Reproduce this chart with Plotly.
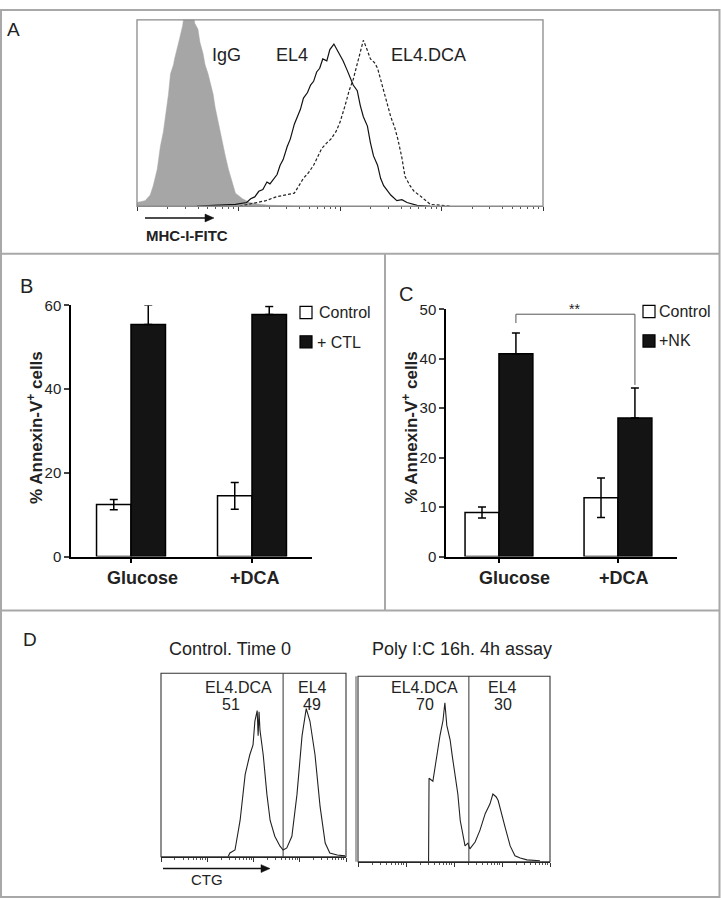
import math
import plotly.graph_objects as go

W, H = 721, 906

# ---------------- data ----------------
# Panel A: flow histograms (x in log decades, y in % of axis height)
a_igg_x = [0.00, 0.08, 0.13, 0.16, 0.20, 0.23, 0.26, 0.28, 0.31, 0.33, 0.36, 0.37, 0.40, 0.42, 0.45, 0.47,
           0.50, 0.52, 0.55, 0.57, 0.60, 0.62, 0.65, 0.67, 0.70, 0.72, 0.75, 0.77, 0.80, 0.82, 0.85,
           0.87, 0.90, 0.92, 0.95, 0.97, 1.04, 1.11, 1.21, 1.31, 1.61]
a_igg_y = [2, 3, 6, 11, 20, 32, 40, 48, 60, 71, 76, 79, 85, 90, 97, 105,
           102, 108, 104, 98, 95, 88, 82, 76, 71, 67, 60, 53, 45, 39, 32,
           27, 20, 16, 10, 7, 4, 2, 1, 0.5, 0]
a_el4_x = [0.59, 0.82, 0.97, 1.08, 1.12, 1.16, 1.20, 1.24, 1.28, 1.31, 1.35, 1.38, 1.41, 1.44, 1.48, 1.51,
           1.55, 1.58, 1.61, 1.64, 1.68, 1.71, 1.74, 1.77, 1.80, 1.83, 1.87, 1.90, 1.94, 1.98, 2.03,
           2.07, 2.10, 2.13, 2.17, 2.20, 2.23, 2.27, 2.30, 2.33, 2.37, 2.40, 2.43, 2.47, 2.50, 2.56,
           2.61, 2.66, 2.76, 2.89]
a_el4_y = [0, 0.5, 1, 2, 4, 5, 8, 9, 13, 12, 15, 17, 22, 25, 32, 36,
           44, 48, 52, 58, 61, 65, 67, 72, 74, 79, 78, 84, 87, 83, 78,
           73, 69, 65, 62, 54, 48, 43, 34, 27, 22, 15, 11, 8, 6, 3,
           3.5, 2, 0.5, 0]
a_dca_x = [1.01, 1.18, 1.27, 1.37, 1.46, 1.55, 1.64, 1.69, 1.74, 1.78, 1.82, 1.87, 1.91, 1.96, 2.00,
           2.05, 2.09, 2.13, 2.16, 2.20, 2.23, 2.26, 2.30, 2.34, 2.37, 2.40, 2.43, 2.47, 2.50,
           2.54, 2.57, 2.61, 2.64, 2.69, 2.73, 2.78, 2.82, 2.89, 2.99, 3.09]
a_dca_y = [0, 2, 3, 5, 6, 7, 15, 18, 22, 27, 31, 34, 36, 40, 45,
           54, 62, 68, 74, 82, 89, 85, 79, 77, 74, 68, 62, 55, 48,
           42, 36, 26, 16, 11, 8, 6, 4, 1, 0.5, 0]

# Panel B: % Annexin-V+ cells with CTL
groups = ["Glucose", "+DCA"]
b_control = [12.4, 14.5]
b_control_err = [1.2, 3.2]
b_ctl = [55.4, 57.8]
b_ctl_err = [4.7, 1.9]

# Panel C: % Annexin-V+ cells with NK
c_control = [8.9, 11.9]
c_control_err = [1.1, 4.0]
c_nk = [41.0, 28.0]
c_nk_err = [4.2, 6.1]

# Panel D: CTG histograms (x in log decades, y in % of box height)
d0_x = [1.45, 1.49, 1.60, 1.71, 1.82, 1.92, 1.99, 2.03, 2.08, 2.10, 2.12, 2.14, 2.21, 2.29, 2.36, 2.46,
        2.57, 2.64, 2.72, 2.83, 2.94, 3.05, 3.14, 3.22, 3.33, 3.44, 3.55, 3.65, 3.81, 3.98]
d0_y = [0, 2.1, 3.7, 19.8, 44.9, 55.6, 61, 74, 79.7, 66, 79, 69, 55.6, 34, 19.8, 11.2,
        5.9, 3.7, 4.8, 11.2, 34, 66, 80.7, 74, 55.6, 27.3, 7.5, 2.1, 1, 0.5]
d1_x = [1.47, 1.48, 1.56, 1.65, 1.71, 1.77, 1.81, 1.85, 1.92, 1.96, 2.02, 2.08, 2.13, 2.23, 2.29, 2.33,
        2.44, 2.54, 2.65, 2.75, 2.81, 2.88, 2.92, 2.96, 3.06, 3.17, 3.27, 3.38, 3.52, 3.79]
d1_y = [0, 45.0, 43.4, 59.3, 68.3, 76, 85.7, 73.5, 65.6, 57.7, 47.1, 36.5, 22.2, 8.5, 10, 6.9,
        10.6, 16.9, 25.9, 31.2, 36.5, 34.9, 33, 28.6, 19, 8.5, 3.2, 2, 1, 0.5]
d0_gate = 2.64
d1_gate = 2.31
d0_pct = ["51", "49"]
d1_pct = ["70", "30"]


# ---------------- helpers ----------------
def px(x):
    return x / W


def py(y):
    return 1 - y / H


FONT = "Liberation Sans, Arial, sans-serif"
fig = go.Figure()

# Panel A traces
fig.add_trace(go.Scatter(x=a_igg_x, y=a_igg_y, mode="lines", fill="tozeroy",
                         line=dict(width=0.5, color="#a6a6a6"), fillcolor="#a6a6a6",
                         xaxis="x", yaxis="y", showlegend=False))
fig.add_trace(go.Scatter(x=a_el4_x, y=a_el4_y, mode="lines",
                         line=dict(width=1.2, color="#111"), xaxis="x", yaxis="y", showlegend=False))
fig.add_trace(go.Scatter(x=a_dca_x, y=a_dca_y, mode="lines",
                         line=dict(width=1.2, color="#222", dash="3px,2px"), xaxis="x", yaxis="y",
                         showlegend=False))

BW = 0.285
ZERO = [0, 0]
# Panel B bars
fig.add_trace(go.Bar(x=[0, 1], y=b_control, width=BW, offset=-BW, xaxis="x2", yaxis="y2",
                     marker=dict(color="white", line=dict(color="black", width=1.5)),
                     error_y=dict(type="data", array=b_control_err, color="black", thickness=1.5, width=4),
                     showlegend=False))
fig.add_trace(go.Bar(x=[0, 1], y=b_ctl, width=BW, offset=0, xaxis="x2", yaxis="y2",
                     marker=dict(color="#141414", line=dict(color="black", width=1.5)),
                     error_y=dict(type="data", array=b_ctl_err, arrayminus=ZERO, symmetric=False,
                                  color="black", thickness=1.5, width=4),
                     showlegend=False))
# Panel C bars
fig.add_trace(go.Bar(x=[0, 1], y=c_control, width=BW, offset=-BW, xaxis="x3", yaxis="y3",
                     marker=dict(color="white", line=dict(color="black", width=1.5)),
                     error_y=dict(type="data", array=c_control_err, color="black", thickness=1.5, width=4),
                     showlegend=False))
fig.add_trace(go.Bar(x=[0, 1], y=c_nk, width=BW, offset=0, xaxis="x3", yaxis="y3",
                     marker=dict(color="#141414", line=dict(color="black", width=1.5)),
                     error_y=dict(type="data", array=c_nk_err, arrayminus=ZERO, symmetric=False,
                                  color="black", thickness=1.5, width=4),
                     showlegend=False))

# Panel D traces
fig.add_trace(go.Scatter(x=d0_x, y=d0_y, mode="lines", line=dict(width=1.1, color="#222"),
                         xaxis="x4", yaxis="y4", showlegend=False))
fig.add_trace(go.Scatter(x=d1_x, y=d1_y, mode="lines", line=dict(width=1.1, color="#222"),
                         xaxis="x5", yaxis="y5", showlegend=False))

log_major = [0, 1, 2, 3, 4]
log_minor = [d + math.log10(k) for d in range(4) for k in range(2, 10)]


def hist_x(domain):
    return dict(domain=domain, range=[0, 4], showgrid=False, zeroline=False, showline=True,
                linecolor="#222", linewidth=1, ticks="outside", ticklen=4, tickcolor="#333",
                tickvals=log_major, showticklabels=False,
                minor=dict(tickvals=log_minor, ticks="outside", ticklen=2, tickcolor="#555"))


def hist_y(domain, anchor):
    return dict(domain=domain, range=[0, 100], showgrid=False, zeroline=False,
                showline=False, showticklabels=False, ticks="", anchor=anchor)


def bar_x(domain, rng):
    return dict(domain=domain, range=rng, showgrid=False, zeroline=False, showline=True,
                linecolor="black", linewidth=1.5, ticks="outside", ticklen=5, tickwidth=1.5,
                tickcolor="black", tickvals=[0, 1], showticklabels=False)


def bar_y(domain, rng, dt, anchor):
    return dict(domain=domain, range=rng, showgrid=False, zeroline=False, showline=True,
                linecolor="black", linewidth=1.5, ticks="outside", ticklen=5, tickwidth=1.5,
                tickcolor="#444", dtick=dt, tickfont=dict(family=FONT, size=15, color="#222"),
                anchor=anchor)


layout = dict(
    width=W, height=H, margin=dict(l=0, r=0, t=0, b=0),
    paper_bgcolor="white", plot_bgcolor="rgba(0,0,0,0)", barmode="overlay",
    font=dict(family=FONT, color="#222"),
    xaxis=dict(hist_x([px(137), px(543)]), anchor="y"),
    yaxis=hist_y([py(201), py(11)], "x"),
    xaxis2=dict(bar_x([px(71), px(312)], [-0.496, 1.496]), anchor="y2"),
    yaxis2=bar_y([py(558), py(302)], [0, 60], 20, "x2"),
    xaxis3=dict(bar_x([px(446), px(677)], [-0.445, 1.496]), anchor="y3"),
    yaxis3=bar_y([py(558), py(306)], [0, 50], 10, "x3"),
    xaxis4=dict(hist_x([px(161), px(346)]), anchor="y4"),
    yaxis4=hist_y([py(864), py(677)], "x4"),
    xaxis5=dict(hist_x([px(358), px(550)]), anchor="y5"),
    yaxis5=hist_y([py(869), py(680)], "x5"),
)
layout["xaxis"]["linecolor"] = "#333"
fig.update_layout(**layout)

shapes = []
GRAY = "#a8a8a8"
# outer frame and panel dividers
shapes.append(dict(type="rect", xref="paper", yref="paper", x0=px(1), x1=px(719.5), y0=py(905), y1=py(1),
                   line=dict(color=GRAY, width=2)))
shapes.append(dict(type="line", xref="paper", yref="paper", x0=px(1), x1=px(719.5), y0=py(249.5), y1=py(249.5),
                   line=dict(color=GRAY, width=2)))
shapes.append(dict(type="line", xref="paper", yref="paper", x0=px(1), x1=px(719.5), y0=py(613), y1=py(613),
                   line=dict(color=GRAY, width=2)))
shapes.append(dict(type="line", xref="paper", yref="paper", x0=px(385), x1=px(385), y0=py(249.5), y1=py(613),
                   line=dict(color=GRAY, width=2)))
# Panel A box
shapes.append(dict(type="rect", xref="paper", yref="paper", x0=px(137), x1=px(543), y0=py(201), y1=py(11),
                   line=dict(color="#8a8a8a", width=1.3)))
# Panel D boxes
shapes.append(dict(type="rect", xref="x4 domain", yref="y4 domain", x0=0, x1=1, y0=0, y1=1,
                   line=dict(color="#333", width=1.1)))
shapes.append(dict(type="rect", xref="x5 domain", yref="y5 domain", x0=0, x1=1, y0=0, y1=1,
                   line=dict(color="#333", width=1.1)))
shapes.append(dict(type="line", xref="paper", yref="y5 domain", x0=px(356), x1=px(356), y0=0, y1=1,
                   line=dict(color="#555", width=1)))
# gates
shapes.append(dict(type="line", xref="x4", yref="y4 domain", x0=d0_gate, x1=d0_gate, y0=0, y1=1,
                   line=dict(color="#333", width=1)))
shapes.append(dict(type="line", xref="x5", yref="y5 domain", x0=d1_gate, x1=d1_gate, y0=0, y1=1,
                   line=dict(color="#333", width=1)))
# significance bracket in C (NK bar centres)
xl = BW / 2
xr = 1 + BW / 2
shapes.append(dict(type="path", xref="x3", yref="y3",
                   path=f"M {xl},47.2 L {xl},49.0 L {xr},49.0 L {xr},{c_nk[1] + c_nk_err[1] + 0.6}",
                   line=dict(color="#555", width=1)))
# legends
for (x0, y0, fill) in [(300, 303, "white"), (300, 333, "#141414"), (643, 302, "white"), (643, 332, "#141414")]:
    shapes.append(dict(type="rect", xref="paper", yref="paper", x0=px(x0), x1=px(x0 + 12),
                       y0=py(y0 + 12.5), y1=py(y0), fillcolor=fill, line=dict(color="black", width=1.2)))


# axis arrows (line + filled head)
def arrow(x0, x1, y):
    shapes.append(dict(type="line", xref="paper", yref="paper", x0=px(x0), x1=px(x1 - 6), y0=py(y), y1=py(y),
                       line=dict(color="#111", width=1.5)))
    shapes.append(dict(type="path", xref="paper", yref="paper",
                       path=f"M {px(x1)},{py(y)} L {px(x1 - 9)},{py(y - 4)} L {px(x1 - 9)},{py(y + 4)} Z",
                       fillcolor="#111", line=dict(color="#111", width=0.5)))


arrow(145, 214, 213)
arrow(163, 270, 876)
fig.update_layout(shapes=shapes)

ann = []


def text(x, y, s, size, xanchor="center", bold=False, family=FONT, angle=0, color="#222"):
    ann.append(dict(x=px(x), y=py(y), xref="paper", yref="paper", text=f"<b>{s}</b>" if bold else s,
                    showarrow=False, xanchor=xanchor, yanchor="middle", textangle=angle,
                    font=dict(family=family, size=size, color=color)))


# panel letters
text(13, 21, "A", 19)
text(27, 282, "B", 20)
text(406, 290, "C", 20)
text(30, 643, "D", 19)
# Panel A labels
text(226, 47, "IgG", 18)
text(292, 47, "EL4", 18)
text(429, 47, "EL4.DCA", 18)
text(187, 231, "MHC-I-FITC", 15, bold=True)
# Panel B labels
text(35, 427, "% Annexin-V<sup>+</sup> cells", 17, bold=True, angle=-90)
text(142, 580, "Glucose", 18, bold=True)
text(255, 580, "+DCA", 18, bold=True)
text(317, 309.5, "Control", 16, xanchor="left")
text(315, 340, "+ CTL", 16, xanchor="left")
# Panel C labels
text(410, 427, "% Annexin-V<sup>+</sup> cells", 17, bold=True, angle=-90)
text(514, 580, "Glucose", 18, bold=True)
text(624, 580, "+DCA", 18, bold=True)
text(657, 308, "Control", 16, xanchor="left")
text(657, 338, "+NK", 16, xanchor="left")
text(574, 306, "**", 14)
# Panel D labels
text(230, 652, "Control. Time 0", 18)
text(462, 652, "Poly I:C 16h. 4h assay", 18)
text(238, 691, "EL4.DCA", 16)
text(231, 709, d0_pct[0], 16)
text(312, 691, "EL4", 16)
text(312, 709, d0_pct[1], 16)
text(425, 691, "EL4.DCA", 16)
text(425, 709, d1_pct[0], 16)
text(502, 691, "EL4", 16)
text(503, 709, d1_pct[1], 16)
text(207, 887, "CTG", 15)
fig.update_layout(annotations=ann)

fig.write_html("out.html", config={"displayModeBar": False},
               post_script="document.documentElement.style.margin='0';document.body.style.margin='0';"
                           "document.body.style.padding='0';document.body.style.overflow='hidden';")
